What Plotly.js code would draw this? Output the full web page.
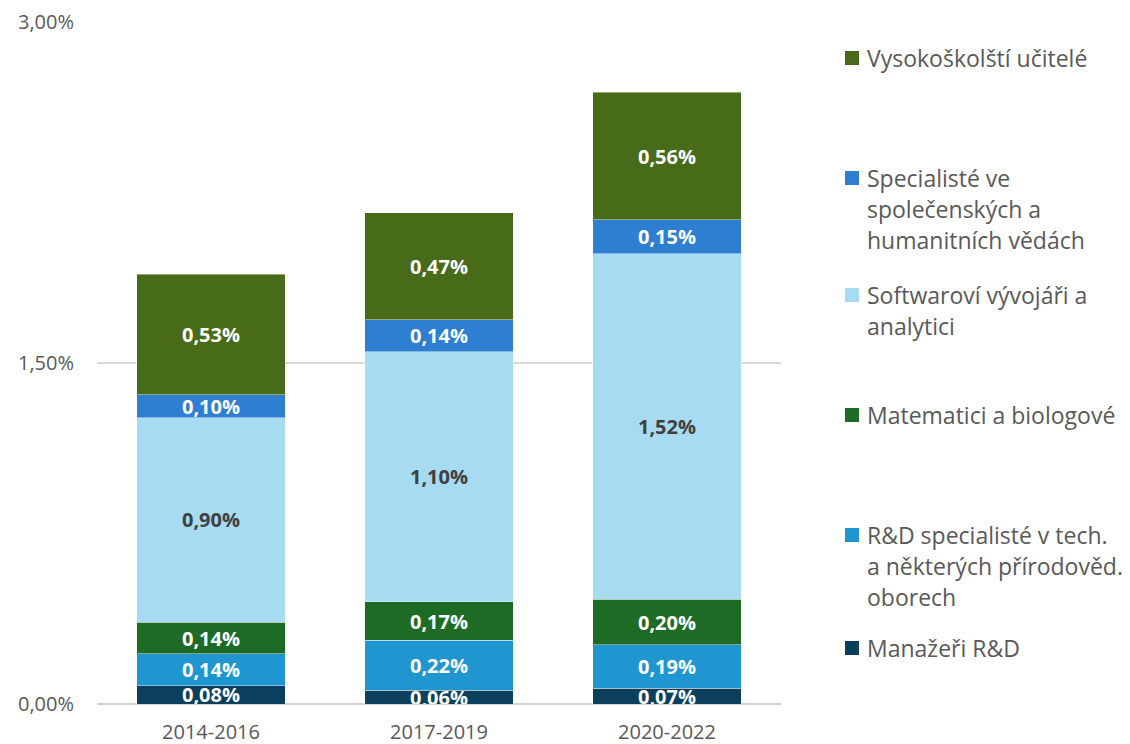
<!DOCTYPE html>
<html>
<head>
<meta charset="utf-8">
<script src="https://cdn.plot.ly/plotly-3.0.1.min.js"></script>
<style>html,body{margin:0;padding:0;background:#fff}#chart{width:1130px;height:744px}</style>
</head>
<body>
<div id="chart"></div>
<script>
// ---- data ----
const periods = ["2014-2016", "2017-2019", "2020-2022"];
const seriesNames = [
  "Manažeři R&D",
  "R&D specialisté v tech. a některých přírodověd. oborech",
  "Matematici a biologové",
  "Softwaroví vývojáři a analytici",
  "Specialisté ve společenských a humanitních vědách",
  "Vysokoškolští učitelé"
];
const manazeri      = [0.08, 0.06, 0.07];
const rdSpecialiste = [0.14, 0.22, 0.19];
const matematici    = [0.14, 0.17, 0.20];
const softwarovi    = [0.90, 1.10, 1.52];
const spolecenske   = [0.10, 0.14, 0.15];
const vsUcitele     = [0.53, 0.47, 0.56];
const yTicks = [0, 1.5, 3];
const yTickText = ["0,00%", "1,50%", "3,00%"];
// legend text lines (as in the reference, wrapped)
const legendLines = [
  ["Vysokoškolští učitelé"],
  ["Specialisté ve", "společenských a", "humanitních vědách"],
  ["Softwaroví vývojáři a", "analytici"],
  ["Matematici a biologové"],
  ["R&D specialisté v tech.", "a některých přírodověd.", "oborech"],
  ["Manažeři R&D"]
];

// ---- styles ----
const colors = ["#0B3F5C", "#1F96D0", "#1E6B26", "#A6DBF1", "#2E7FD2", "#476B18"];
const textColors = ["#FFFFFF", "#FFFFFF", "#FFFFFF", "#404040", "#FFFFFF", "#FFFFFF"];
const values = [manazeri, rdSpecialiste, matematici, softwarovi, spolecenske, vsUcitele];
const FONT = "'Open Sans', Lato, sans-serif";

const traces = values.map((v, i) => ({
  type: "bar",
  name: seriesNames[i],
  x: periods,
  y: v,
  marker: { color: colors[i], line: { color: "rgba(255,255,255,0.6)", width: 0.7 } },
  texttemplate: "%{y:.2f}%",
  textposition: "inside",
  insidetextanchor: "middle",
  textangle: 0,
  textfont: { family: FONT, size: 20, color: textColors[i], weight: "bold" },
  hoverinfo: "skip",
  showlegend: false
}));

// custom legend layout (pixel positions of the reference)
const plotL = 97, plotR = 781, plotT = 22, plotB = 704;
const W = plotR - plotL, H = plotB - plotT;
const px2x = p => (p - plotL) / W;
const px2y = p => (plotB - p) / H;
const legendTop = [58, 178, 295, 415, 535, 648];
const lineGap = 31;
const legendOrder = [5, 4, 3, 2, 1, 0]; // series index for each legend entry
const annotations = [];
const shapes = [];
legendLines.forEach((lines, k) => {
  const si = legendOrder[k];
  shapes.push({
    type: "rect", xref: "paper", yref: "paper",
    x0: px2x(845), x1: px2x(859),
    y0: px2y(legendTop[k] + 7), y1: px2y(legendTop[k] - 7),
    fillcolor: colors[si], line: { width: 0 }
  });
  lines.forEach((t, j) => {
    annotations.push({
      xref: "paper", yref: "paper",
      x: px2x(865), y: px2y(legendTop[k] + j * lineGap),
      xanchor: "left", yanchor: "middle",
      text: t, showarrow: false,
      font: { family: FONT, size: 23, color: "#595959" }
    });
  });
});

const layout = {
  width: 1130, height: 744,
  margin: { l: plotL, r: 1130 - plotR, t: plotT, b: 744 - plotB, pad: 0 },
  paper_bgcolor: "#FFFFFF", plot_bgcolor: "#FFFFFF",
  barmode: "stack",
  bargap: 0.35,
  separators: ", ",
  font: { family: FONT, color: "#595959" },
  uniformtext: { mode: "show", minsize: 20 },
  xaxis: {
    type: "category",
    showgrid: false, zeroline: false,
    showline: false,
    ticks: "", ticklen: 0, ticklabelstandoff: 14,
    tickfont: { family: FONT, size: 20, color: "#595959" }
  },
  yaxis: {
    range: [0, 3],
    tickvals: yTicks,
    ticktext: yTickText,
    showgrid: true, gridcolor: "#D9D9D9", gridwidth: 1.3,
    zeroline: true, zerolinecolor: "#D0D0D0", zerolinewidth: 1.5,
    showline: false, ticks: "", ticklabelstandoff: 22,
    tickfont: { family: FONT, size: 20, color: "#595959" }
  },
  showlegend: false,
  annotations: annotations,
  shapes: shapes
};

Plotly.newPlot("chart", traces, layout, { staticPlot: true, displayModeBar: false });
</script>
</body>
</html>
